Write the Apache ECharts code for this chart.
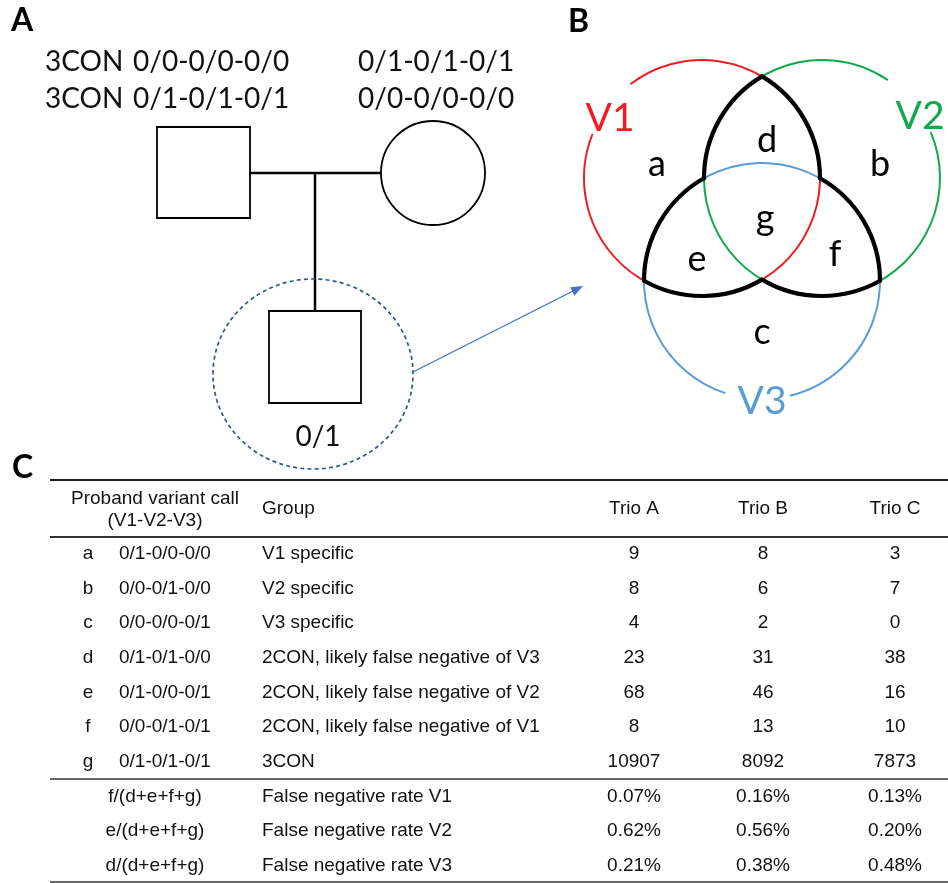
<!DOCTYPE html>
<html><head><meta charset="utf-8">
<script src="https://cdn.jsdelivr.net/npm/echarts@6/dist/echarts.min.js"></script>
<style>html,body{margin:0;padding:0;background:#fff}#c{width:948px;height:883px}</style>
</head><body><div id="c"></div>
<script>
// ---------------- data ----------------
const panelLetters = ['A', 'B', 'C'];
const fatherTags = ['3CON', '3CON'];
const fatherCalls = ['0/0-0/0-0/0', '0/1-0/1-0/1'];
const motherCalls = ['0/1-0/1-0/1', '0/0-0/0-0/0'];
const probandCall = '0/1';
const setNames = ['V1', 'V2', 'V3'];
const setColors = ['#EE1D23', '#12A84E', '#5B9BD5'];
const regionLetters = ['a', 'b', 'c', 'd', 'e', 'f', 'g'];

const headerCall = ['Proband variant call', '(V1-V2-V3)'];
const headerGroup = 'Group';
const trioHeaders = ['Trio A', 'Trio B', 'Trio C'];
const rowLetters = ['a', 'b', 'c', 'd', 'e', 'f', 'g'];
const variantCalls = ['0/1-0/0-0/0', '0/0-0/1-0/0', '0/0-0/0-0/1', '0/1-0/1-0/0', '0/1-0/0-0/1', '0/0-0/1-0/1', '0/1-0/1-0/1'];
const groupNames = ['V1 specific', 'V2 specific', 'V3 specific', '2CON, likely false negative of V3', '2CON, likely false negative of V2', '2CON, likely false negative of V1', '3CON'];
const trioA = [9, 8, 4, 23, 68, 8, 10907];
const trioB = [8, 6, 2, 31, 46, 13, 8092];
const trioC = [3, 7, 0, 38, 16, 10, 7873];
const rateFormulas = ['f/(d+e+f+g)', 'e/(d+e+f+g)', 'd/(d+e+f+g)'];
const rateNames = ['False negative rate V1', 'False negative rate V2', 'False negative rate V3'];
const rateA = ['0.07%', '0.62%', '0.21%'];
const rateB = ['0.16%', '0.56%', '0.38%'];
const rateC = ['0.13%', '0.20%', '0.48%'];

// ---------------- layout / style ----------------
const LATO = 'Lato, "Open Sans", sans-serif';
const ARIAL = '"Liberation Sans", Arial, sans-serif';
const INK = '#111';
const TINK = '#111';
const COL = { letter: 88, call: 119, formula: 155, group: 262, trios: [634, 763, 895] };

const els = [];
function txt(x, y, text, size, o) {
  o = o || {};
  els.push({ type: 'text', x: x, y: y, silent: true, z: 10,
    style: { text: text, fontSize: size, fontFamily: o.family || LATO, fontWeight: o.weight || 'normal',
      fill: o.color || INK, align: o.align || 'left', verticalAlign: 'middle' } });
}
function line(x1, y1, x2, y2, color, w, dash) {
  els.push({ type: 'line', silent: true, z: 5, shape: { x1: x1, y1: y1, x2: x2, y2: y2 },
    style: { stroke: color, lineWidth: w, lineDash: dash || null } });
}

// ---- panel letters ----
txt(11, 21, panelLetters[0], 32, { weight: 'bold', color: '#000' });
txt(568, 22, panelLetters[1], 32, { weight: 'bold', color: '#000' });
txt(12, 468, panelLetters[2], 32, { weight: 'bold', color: '#000' });

// ---- panel A : pedigree ----
const rowsA = [62, 99];
fatherTags.forEach((t, i) => txt(45, rowsA[i], t, 28));
fatherCalls.forEach((t, i) => txt(133, rowsA[i], t, 28));
motherCalls.forEach((t, i) => txt(358, rowsA[i], t, 28));
line(250, 173, 381, 173, '#000', 2.5);
line(315, 173, 315, 311, '#000', 2.5);
els.push({ type: 'rect', silent: true, z: 6, shape: { x: 157, y: 127, width: 93, height: 91 },
  style: { stroke: '#000', lineWidth: 1.8, fill: '#fff' } });
els.push({ type: 'circle', silent: true, z: 6, shape: { cx: 433, cy: 173, r: 52 },
  style: { stroke: '#000', lineWidth: 1.8, fill: '#fff' } });
els.push({ type: 'rect', silent: true, z: 6, shape: { x: 269, y: 311, width: 92, height: 92 },
  style: { stroke: '#000', lineWidth: 1.8, fill: '#fff' } });
txt(318, 437, probandCall, 28, { align: 'center' });
els.push({ type: 'ellipse', silent: true, z: 7, shape: { cx: 313, cy: 374, rx: 100, ry: 95 },
  style: { stroke: '#2F5597', lineWidth: 1.7, fill: null, lineDash: [4, 3.2] } });
(function arrow() {
  const x1 = 413, y1 = 372, x2 = 583, y2 = 286;
  const L = Math.hypot(x2 - x1, y2 - y1), ux = (x2 - x1) / L, uy = (y2 - y1) / L;
  const hl = 12, hw = 4.8;
  const bx = x2 - ux * hl, by = y2 - uy * hl;
  line(x1, y1, bx + ux * 2, by + uy * 2, '#4472C4', 1.3);
  els.push({ type: 'polygon', silent: true, z: 7,
    shape: { points: [[x2, y2], [bx - uy * hw, by + ux * hw], [bx + uy * hw, by - ux * hw]] },
    style: { fill: '#4472C4' } });
})();

// ---- panel B : venn ----
const R = 118;
const C = [[702, 178], [822, 178], [762, 281]];
function inter(a, b) {
  const dx = b[0] - a[0], dy = b[1] - a[1], d = Math.hypot(dx, dy);
  const h = Math.sqrt(R * R - (d / 2) * (d / 2));
  const mx = (a[0] + b[0]) / 2, my = (a[1] + b[1]) / 2;
  const px = -dy / d, py = dx / d;
  return [[mx + px * h, my + py * h], [mx - px * h, my - py * h]];
}
function ang(c, p) { return Math.atan2(p[1] - c[1], p[0] - c[0]); }
function arc(c, a1, a2, color, w, z) {
  while (a2 < a1) a2 += Math.PI * 2;
  els.push({ type: 'arc', silent: true, z: z,
    shape: { cx: c[0], cy: c[1], r: R, startAngle: a1, endAngle: a2, clockwise: true },
    style: { stroke: color, lineWidth: w, fill: null, lineCap: 'round' } });
}
const deg = Math.PI / 180;
arc(C[0], -127 * deg, 201.5 * deg, setColors[0], 2, 8);
arc(C[1], -22.5 * deg, 303.5 * deg, setColors[1], 2, 8);
arc(C[2], 108.5 * deg, 436 * deg, setColors[2], 2, 8);
const i12 = inter(C[0], C[1]).sort((p, q) => p[1] - q[1]);
const i13 = inter(C[0], C[2]).sort((p, q) => p[0] - q[0]);
const i23 = inter(C[1], C[2]).sort((p, q) => p[0] - q[0]);
const pTop = i12[0], pBot = i12[1];
const BW = 4.2, BK = '#000';
arc(C[1], ang(C[1], i23[0]), ang(C[1], pTop), BK, BW, 9);
arc(C[0], ang(C[0], pTop), ang(C[0], i13[1]), BK, BW, 9);
arc(C[2], ang(C[2], i13[0]), ang(C[2], i23[0]), BK, BW, 9);
arc(C[0], ang(C[0], pBot), ang(C[0], i13[0]), BK, BW, 9);
arc(C[2], ang(C[2], i13[1]), ang(C[2], i23[1]), BK, BW, 9);
arc(C[1], ang(C[1], i23[1]), ang(C[1], pBot), BK, BW, 9);
const setLabelPos = [[610, 118], [920, 116], [762, 401]];
setNames.forEach((n, i) => txt(setLabelPos[i][0], setLabelPos[i][1], n, 39, { color: setColors[i], align: 'center' }));
const regionPos = [[657, 164], [880, 164], [762, 332], [767, 140], [697, 259], [835, 254], [765, 218]];
regionLetters.forEach((n, i) => txt(regionPos[i][0], regionPos[i][1], n, 36, { color: '#000', align: 'center' }));

// ---- panel C : table rules and header ----
line(50, 480, 948, 480, '#1a1a1a', 2);
line(50, 537, 948, 537, '#333', 2.2);
line(50, 779, 948, 779, '#666', 1.8);
line(50, 882, 948, 882, '#666', 1.8);
txt(COL.formula, 499, headerCall[0], 19, { family: ARIAL, color: TINK, align: 'center' });
txt(COL.formula, 521, headerCall[1], 19, { family: ARIAL, color: TINK, align: 'center' });
txt(COL.group, 509, headerGroup, 19, { family: ARIAL, color: TINK });
trioHeaders.forEach((h, i) => txt(COL.trios[i], 509, h, 19, { family: ARIAL, color: TINK, align: 'center' }));

// ---- table body: cells positioned through a category axis (custom series) ----
const rowKeys = rowLetters.concat(rateFormulas);
function cellSeries(texts, rows, x, align) {
  return {
    type: 'custom', silent: true, animation: false, coordinateSystem: 'cartesian2d',
    encode: { x: 0, y: 1 },
    data: texts.map((t, i) => [x, rows[i]]),
    renderItem: function (params, api) {
      const p = api.coord([api.value(0), api.value(1)]);
      return { type: 'text', x: p[0], y: p[1],
        style: { text: String(texts[params.dataIndex]), fill: TINK, fontSize: 19, fontFamily: ARIAL,
          align: align, verticalAlign: 'middle' } };
    }
  };
}
const series = [
  cellSeries(rowLetters, rowLetters, COL.letter, 'center'),
  cellSeries(variantCalls, rowLetters, COL.call, 'left'),
  cellSeries(rateFormulas, rateFormulas, COL.formula, 'center'),
  cellSeries(groupNames.concat(rateNames), rowKeys, COL.group, 'left'),
  cellSeries(trioA.map(String).concat(rateA), rowKeys, COL.trios[0], 'center'),
  cellSeries(trioB.map(String).concat(rateB), rowKeys, COL.trios[1], 'center'),
  cellSeries(trioC.map(String).concat(rateC), rowKeys, COL.trios[2], 'center')
];

const chart = echarts.init(document.getElementById('c'), null, { renderer: 'canvas' });
chart.setOption({
  animation: false,
  backgroundColor: '#fff',
  grid: { left: 0, right: 0, top: 536.6, height: 348 },
  xAxis: { type: 'value', min: 0, max: 948, show: false },
  yAxis: { type: 'category', data: rowKeys, inverse: true, show: false },
  series: series,
  graphic: { elements: els }
});
</script></body></html>
